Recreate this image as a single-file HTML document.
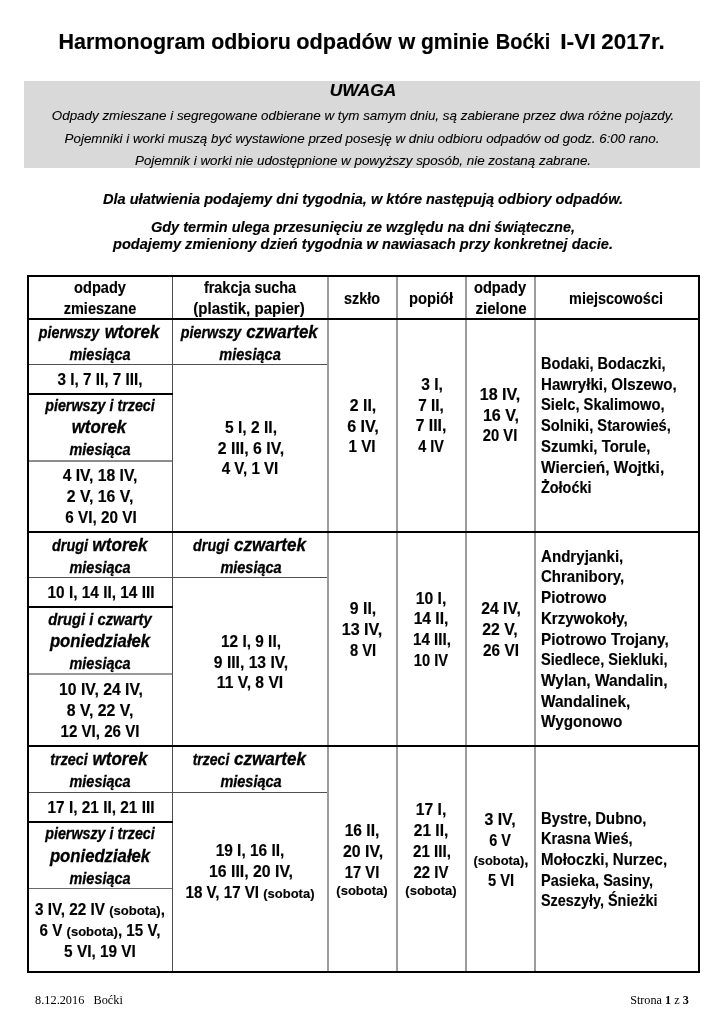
<!DOCTYPE html>
<html lang="pl">
<head>
<meta charset="utf-8">
<title>Harmonogram odbioru odpadów w gminie Boćki I-VI 2017r.</title>
<style>
html,body{margin:0;padding:0;background:#fff;}
#page{position:relative;width:725px;height:1024px;overflow:hidden;background:#fff;color:#000;font-family:"Liberation Sans",sans-serif;}
.r{position:absolute;}
.t{position:absolute;white-space:nowrap;line-height:20px;margin:0;padding:0;transform-origin:50% 50%;}
.l{transform-origin:0 50%;}
.b,.sm,.title,.bi,.uw{-webkit-text-stroke:0.15px #000;}
.note{-webkit-text-stroke:0.1px #000;}
.i,.I{-webkit-text-stroke:0.3px #000;}
.title{font-size:21.5px;font-weight:bold;}
.uw{font-size:15.84px;font-weight:bold;font-style:italic;}
.note{font-size:13.4px;font-style:italic;}
.bi{font-size:14.62px;font-weight:bold;font-style:italic;}
.b{font-size:15.69px;font-weight:bold;}
.i{font-size:15.69px;font-weight:bold;font-style:italic;}
.I{font-size:17.94px;font-weight:bold;font-style:italic;}
.sm{font-size:13.45px;font-weight:bold;}
.ft{font-size:12.19px;font-family:"Liberation Serif",serif;}
</style>
</head>
<body>
<div id="page">
<div class="r" style="left:24px;top:81px;width:676px;height:87px;background:#d9d9d9"></div>
<div class="r" style="left:327px;top:277px;width:2px;height:694px;background:#9c9c9c"></div>
<div class="r" style="left:396px;top:277px;width:2px;height:694px;background:#9c9c9c"></div>
<div class="r" style="left:465px;top:277px;width:2px;height:694px;background:#9c9c9c"></div>
<div class="r" style="left:534px;top:277px;width:2px;height:694px;background:#9c9c9c"></div>
<div class="r" style="left:172px;top:277px;width:1px;height:694px;background:#505050"></div>
<div class="r" style="left:29px;top:364px;width:298px;height:1px;background:#505050"></div>
<div class="r" style="left:29px;top:460px;width:143px;height:2px;background:#8c8c8c"></div>
<div class="r" style="left:29px;top:577px;width:298px;height:1px;background:#505050"></div>
<div class="r" style="left:29px;top:673px;width:143px;height:2px;background:#999"></div>
<div class="r" style="left:29px;top:792px;width:298px;height:1px;background:#505050"></div>
<div class="r" style="left:29px;top:888px;width:143px;height:1px;background:#6a6a6a"></div>
<div class="r" style="left:27px;top:393px;width:146px;height:2px;background:#000"></div>
<div class="r" style="left:27px;top:606px;width:146px;height:2px;background:#000"></div>
<div class="r" style="left:27px;top:821px;width:146px;height:2px;background:#000"></div>
<div class="r" style="left:27px;top:318px;width:673px;height:2px;background:#000"></div>
<div class="r" style="left:27px;top:531px;width:673px;height:2px;background:#000"></div>
<div class="r" style="left:27px;top:745px;width:673px;height:2px;background:#000"></div>
<div class="r" style="left:27px;top:275px;width:673px;height:2px;background:#000"></div>
<div class="r" style="left:27px;top:971px;width:673px;height:2px;background:#000"></div>
<div class="r" style="left:27px;top:275px;width:2px;height:698px;background:#000"></div>
<div class="r" style="left:698px;top:275px;width:2px;height:698px;background:#000"></div>
<div class="t title" style="left:132.10px;top:32px;transform:translateX(-50%) scaleX(1.0002)">Harmonogram</div>
<div class="t title" style="left:250.50px;top:32px;transform:translateX(-50%) scaleX(0.9941)">odbioru</div>
<div class="t title" style="left:343.65px;top:32px;transform:translateX(-50%) scaleX(1.0117)">odpadów</div>
<div class="t title" style="left:407.27px;top:32px;transform:translateX(-50%) scaleX(1.0012)">w</div>
<div class="t title" style="left:454.87px;top:32px;transform:translateX(-50%) scaleX(0.9834)">gminie</div>
<div class="t title" style="left:523.00px;top:32px;transform:translateX(-50%) scaleX(0.9306)">Boćki</div>
<div class="t title" style="left:578.32px;top:32px;transform:translateX(-50%) scaleX(1.0659)">I-VI</div>
<div class="t title" style="left:633.38px;top:32px;transform:translateX(-50%) scaleX(1.0388)">2017r.</div>
<div class="t uw" style="left:362.98px;top:81px;transform:translateX(-50%) scaleX(1.0966)">UWAGA</div>
<div class="t note" style="left:362.90px;top:106px;transform:translateX(-50%) scaleX(1.0008)">Odpady zmieszane i segregowane odbierane w tym samym dniu, są zabierane przez dwa różne pojazdy.</div>
<div class="t note" style="left:362.40px;top:129px;transform:translateX(-50%) scaleX(0.9990)">Pojemniki i worki muszą być wystawione przed posesję w dniu odbioru odpadów od godz. 6:00 rano.</div>
<div class="t note" style="left:363.30px;top:151px;transform:translateX(-50%) scaleX(0.9996)">Pojemnik i worki nie udostępnione w powyższy sposób, nie zostaną zabrane.</div>
<div class="t bi" style="left:362.67px;top:189px;transform:translateX(-50%) scaleX(0.9974)">Dla ułatwienia podajemy dni tygodnia, w które następują odbiory odpadów.</div>
<div class="t bi" style="left:362.80px;top:217px;transform:translateX(-50%) scaleX(0.9953)">Gdy termin ulega przesunięciu ze względu na dni świąteczne,</div>
<div class="t bi" style="left:363.15px;top:234px;transform:translateX(-50%) scaleX(0.9982)">podajemy zmieniony dzień tygodnia w nawiasach przy konkretnej dacie.</div>
<div class="t b" style="left:99.55px;top:278px;transform:translateX(-50%) scaleX(0.9303)">odpady</div>
<div class="t b" style="left:100.45px;top:299px;transform:translateX(-50%) scaleX(0.9244)">zmieszane</div>
<div class="t b" style="left:249.72px;top:278px;transform:translateX(-50%) scaleX(0.9181)">frakcja sucha</div>
<div class="t b" style="left:249.45px;top:299px;transform:translateX(-50%) scaleX(0.9605)">(plastik, papier)</div>
<div class="t b" style="left:362.40px;top:289px;transform:translateX(-50%) scaleX(0.9181)">szkło</div>
<div class="t b" style="left:431.15px;top:289px;transform:translateX(-50%) scaleX(0.9391)">popiół</div>
<div class="t b" style="left:499.85px;top:278px;transform:translateX(-50%) scaleX(0.9340)">odpady</div>
<div class="t b" style="left:500.75px;top:299px;transform:translateX(-50%) scaleX(0.9623)">zielone</div>
<div class="t b" style="left:616.45px;top:289px;transform:translateX(-50%) scaleX(0.9198)">miejscowości</div>
<div class="t i" style="left:69.40px;top:323px;transform:translateX(-50%) scaleX(0.9114)">pierwszy</div>
<div class="t I" style="left:132.10px;top:322px;transform:translateX(-50%) scaleX(0.9454)">wtorek</div>
<div class="t i" style="left:100.30px;top:345px;transform:translateX(-50%) scaleX(0.9183)">miesiąca</div>
<div class="t b" style="left:99.82px;top:370px;transform:translateX(-50%) scaleX(0.9730)">3 I, 7 II, 7 III,</div>
<div class="t i" style="left:100.27px;top:396px;transform:translateX(-50%) scaleX(0.9101)">pierwszy i trzeci</div>
<div class="t I" style="left:99.48px;top:417px;transform:translateX(-50%) scaleX(0.9443)">wtorek</div>
<div class="t i" style="left:100.30px;top:440px;transform:translateX(-50%) scaleX(0.9183)">miesiąca</div>
<div class="t b" style="left:100.00px;top:466px;transform:translateX(-50%) scaleX(1.0000)">4 IV, 18 IV,</div>
<div class="t b" style="left:99.80px;top:487px;transform:translateX(-50%) scaleX(1.0092)">2 V, 16 V,</div>
<div class="t b" style="left:100.52px;top:508px;transform:translateX(-50%) scaleX(0.9733)">6 VI, 20 VI</div>
<div class="t i" style="left:211.15px;top:323px;transform:translateX(-50%) scaleX(0.9144)">pierwszy</div>
<div class="t I" style="left:281.80px;top:322px;transform:translateX(-50%) scaleX(0.9449)">czwartek</div>
<div class="t i" style="left:250.37px;top:345px;transform:translateX(-50%) scaleX(0.9268)">miesiąca</div>
<div class="t b" style="left:251.00px;top:418px;transform:translateX(-50%) scaleX(0.9925)">5 I, 2 II,</div>
<div class="t b" style="left:250.73px;top:439px;transform:translateX(-50%) scaleX(1.0085)">2 III, 6 IV,</div>
<div class="t b" style="left:249.88px;top:459px;transform:translateX(-50%) scaleX(0.9636)">4 V, 1 VI</div>
<div class="t b" style="left:362.75px;top:396px;transform:translateX(-50%) scaleX(1.0083)">2 II,</div>
<div class="t b" style="left:362.75px;top:417px;transform:translateX(-50%) scaleX(1.0281)">6 IV,</div>
<div class="t b" style="left:362.30px;top:437px;transform:translateX(-50%) scaleX(0.9727)">1 VI</div>
<div class="t b" style="left:431.55px;top:375px;transform:translateX(-50%) scaleX(0.9918)">3 I,</div>
<div class="t b" style="left:431.40px;top:396px;transform:translateX(-50%) scaleX(0.9778)">7 II,</div>
<div class="t b" style="left:431.40px;top:416px;transform:translateX(-50%) scaleX(1.0009)">7 III,</div>
<div class="t b" style="left:431.00px;top:437px;transform:translateX(-50%) scaleX(0.9181)">4 IV</div>
<div class="t b" style="left:500.23px;top:385px;transform:translateX(-50%) scaleX(1.0231)">18 IV,</div>
<div class="t b" style="left:500.60px;top:406px;transform:translateX(-50%) scaleX(1.0281)">16 V,</div>
<div class="t b" style="left:499.90px;top:426px;transform:translateX(-50%) scaleX(0.9408)">20 VI</div>
<div class="t l b" style="left:541.30px;top:354px;transform:scaleX(0.9276)">Bodaki, Bodaczki,</div>
<div class="t l b" style="left:541.30px;top:375px;transform:scaleX(0.9607)">Hawryłki, Olszewo,</div>
<div class="t l b" style="left:541.30px;top:395px;transform:scaleX(0.9395)">Sielc, Skalimowo,</div>
<div class="t l b" style="left:541.30px;top:416px;transform:scaleX(0.9368)">Solniki, Starowieś,</div>
<div class="t l b" style="left:541.30px;top:437px;transform:scaleX(0.9528)">Szumki, Torule,</div>
<div class="t l b" style="left:541.30px;top:458px;transform:scaleX(0.9848)">Wiercień, Wojtki,</div>
<div class="t l b" style="left:541.30px;top:478px;transform:scaleX(0.9181)">Żołoćki</div>
<div class="t i" style="left:69.70px;top:536px;transform:translateX(-50%) scaleX(0.9199)">drugi</div>
<div class="t I" style="left:120.45px;top:535px;transform:translateX(-50%) scaleX(0.9572)">wtorek</div>
<div class="t i" style="left:100.30px;top:558px;transform:translateX(-50%) scaleX(0.9183)">miesiąca</div>
<div class="t b" style="left:100.55px;top:583px;transform:translateX(-50%) scaleX(0.9810)">10 I, 14 II, 14 III</div>
<div class="t i" style="left:99.85px;top:610px;transform:translateX(-50%) scaleX(0.9410)">drugi i czwarty</div>
<div class="t I" style="left:100.08px;top:631px;transform:translateX(-50%) scaleX(0.9312)">poniedziałek</div>
<div class="t i" style="left:100.30px;top:654px;transform:translateX(-50%) scaleX(0.9183)">miesiąca</div>
<div class="t b" style="left:101.10px;top:680px;transform:translateX(-50%) scaleX(1.0049)">10 IV, 24 IV,</div>
<div class="t b" style="left:99.80px;top:701px;transform:translateX(-50%) scaleX(1.0092)">8 V, 22 V,</div>
<div class="t b" style="left:100.00px;top:722px;transform:translateX(-50%) scaleX(0.9634)">12 VI, 26 VI</div>
<div class="t i" style="left:211.40px;top:536px;transform:translateX(-50%) scaleX(0.9138)">drugi</div>
<div class="t I" style="left:269.60px;top:535px;transform:translateX(-50%) scaleX(0.9503)">czwartek</div>
<div class="t i" style="left:250.63px;top:558px;transform:translateX(-50%) scaleX(0.9236)">miesiąca</div>
<div class="t b" style="left:250.75px;top:632px;transform:translateX(-50%) scaleX(0.9809)">12 I, 9 II,</div>
<div class="t b" style="left:250.73px;top:653px;transform:translateX(-50%) scaleX(0.9980)">9 III, 13 IV,</div>
<div class="t b" style="left:250.10px;top:673px;transform:translateX(-50%) scaleX(0.9971)">11 V, 8 VI</div>
<div class="t b" style="left:362.75px;top:599px;transform:translateX(-50%) scaleX(1.0083)">9 II,</div>
<div class="t b" style="left:362.33px;top:620px;transform:translateX(-50%) scaleX(1.0281)">13 IV,</div>
<div class="t b" style="left:362.75px;top:641px;transform:translateX(-50%) scaleX(0.9362)">8 VI</div>
<div class="t b" style="left:431.40px;top:589px;transform:translateX(-50%) scaleX(1.0009)">10 I,</div>
<div class="t b" style="left:431.32px;top:609px;transform:translateX(-50%) scaleX(0.9953)">14 II,</div>
<div class="t b" style="left:431.87px;top:630px;transform:translateX(-50%) scaleX(0.9667)">14 III,</div>
<div class="t b" style="left:431.40px;top:651px;transform:translateX(-50%) scaleX(0.9356)">10 IV</div>
<div class="t b" style="left:500.68px;top:599px;transform:translateX(-50%) scaleX(0.9995)">24 IV,</div>
<div class="t b" style="left:500.15px;top:620px;transform:translateX(-50%) scaleX(1.0060)">22 V,</div>
<div class="t b" style="left:500.58px;top:641px;transform:translateX(-50%) scaleX(0.9779)">26 VI</div>
<div class="t l b" style="left:541.30px;top:547px;transform:scaleX(0.9630)">Andryjanki,</div>
<div class="t l b" style="left:541.30px;top:567px;transform:scaleX(0.9570)">Chranibory,</div>
<div class="t l b" style="left:541.30px;top:588px;transform:scaleX(0.9777)">Piotrowo</div>
<div class="t l b" style="left:541.30px;top:609px;transform:scaleX(0.9589)">Krzywokoły,</div>
<div class="t l b" style="left:541.30px;top:630px;transform:scaleX(0.9789)">Piotrowo Trojany,</div>
<div class="t l b" style="left:541.30px;top:650px;transform:scaleX(0.9298)">Siedlece, Siekluki,</div>
<div class="t l b" style="left:541.30px;top:671px;transform:scaleX(0.9879)">Wylan, Wandalin,</div>
<div class="t l b" style="left:541.30px;top:692px;transform:scaleX(0.9809)">Wandalinek,</div>
<div class="t l b" style="left:541.30px;top:712px;transform:scaleX(0.9748)">Wygonowo</div>
<div class="t i" style="left:69.15px;top:750px;transform:translateX(-50%) scaleX(0.9104)">trzeci</div>
<div class="t I" style="left:120.48px;top:749px;transform:translateX(-50%) scaleX(0.9512)">wtorek</div>
<div class="t i" style="left:100.30px;top:772px;transform:translateX(-50%) scaleX(0.9183)">miesiąca</div>
<div class="t b" style="left:100.55px;top:798px;transform:translateX(-50%) scaleX(0.9810)">17 I, 21 II, 21 III</div>
<div class="t i" style="left:100.27px;top:824px;transform:translateX(-50%) scaleX(0.9101)">pierwszy i trzeci</div>
<div class="t I" style="left:100.08px;top:846px;transform:translateX(-50%) scaleX(0.9312)">poniedziałek</div>
<div class="t i" style="left:100.30px;top:869px;transform:translateX(-50%) scaleX(0.9183)">miesiąca</div>
<div class="t b" style="left:100.30px;top:900px;transform:translateX(-50%) scaleX(0.9732)">3 IV, 22 IV <span style="font-size:13.45px">(sobota)</span>,</div>
<div class="t b" style="left:100.00px;top:921px;transform:translateX(-50%) scaleX(0.9680)">6 V <span style="font-size:13.45px">(sobota)</span>, 15 V,</div>
<div class="t b" style="left:100.27px;top:942px;transform:translateX(-50%) scaleX(0.9802)">5 VI, 19 VI</div>
<div class="t i" style="left:211.33px;top:750px;transform:translateX(-50%) scaleX(0.8927)">trzeci</div>
<div class="t I" style="left:270.35px;top:749px;transform:translateX(-50%) scaleX(0.9503)">czwartek</div>
<div class="t i" style="left:250.63px;top:772px;transform:translateX(-50%) scaleX(0.9236)">miesiąca</div>
<div class="t b" style="left:250.20px;top:841px;transform:translateX(-50%) scaleX(0.9851)">19 I, 16 II,</div>
<div class="t b" style="left:250.65px;top:862px;transform:translateX(-50%) scaleX(1.0111)">16 III, 20 IV,</div>
<div class="t b" style="left:249.85px;top:883px;transform:translateX(-50%) scaleX(0.9657)">18 V, 17 VI <span style="font-size:13.45px">(sobota)</span></div>
<div class="t b" style="left:362.32px;top:821px;transform:translateX(-50%) scaleX(0.9953)">16 II,</div>
<div class="t b" style="left:362.78px;top:842px;transform:translateX(-50%) scaleX(1.0141)">20 IV,</div>
<div class="t b" style="left:362.32px;top:863px;transform:translateX(-50%) scaleX(0.9415)">17 VI</div>
<div class="t sm" style="left:362.32px;top:881px;transform:translateX(-50%) scaleX(0.9673)">(sobota)</div>
<div class="t b" style="left:431.40px;top:800px;transform:translateX(-50%) scaleX(1.0009)">17 I,</div>
<div class="t b" style="left:431.40px;top:821px;transform:translateX(-50%) scaleX(0.9890)">21 II,</div>
<div class="t b" style="left:431.85px;top:842px;transform:translateX(-50%) scaleX(0.9666)">21 III,</div>
<div class="t b" style="left:431.10px;top:863px;transform:translateX(-50%) scaleX(0.9516)">22 IV</div>
<div class="t sm" style="left:430.57px;top:881px;transform:translateX(-50%) scaleX(0.9673)">(sobota)</div>
<div class="t b" style="left:500.20px;top:810px;transform:translateX(-50%) scaleX(1.0135)">3 IV,</div>
<div class="t b" style="left:499.92px;top:831px;transform:translateX(-50%) scaleX(0.9181)">6 V</div>
<div class="t b" style="left:500.80px;top:850px;transform:translateX(-50%) scaleX(0.9581)"><span style="font-size:13.45px">(sobota)</span>,</div>
<div class="t b" style="left:500.95px;top:871px;transform:translateX(-50%) scaleX(0.9362)">5 VI</div>
<div class="t l b" style="left:541.30px;top:809px;transform:scaleX(0.9448)">Bystre, Dubno,</div>
<div class="t l b" style="left:541.30px;top:829px;transform:scaleX(0.9317)">Krasna Wieś,</div>
<div class="t l b" style="left:541.30px;top:850px;transform:scaleX(0.9577)">Mołoczki, Nurzec,</div>
<div class="t l b" style="left:541.30px;top:871px;transform:scaleX(0.9257)">Pasieka, Sasiny,</div>
<div class="t l b" style="left:541.30px;top:891px;transform:scaleX(0.9181)">Szeszyły, Śnieżki</div>
<div class="t ft" style="left:78.97px;top:990px;transform:translateX(-50%) scaleX(1.0087)">8.12.2016&nbsp;&nbsp; Boćki</div>
<div class="t ft" style="left:659.45px;top:990px;transform:translateX(-50%) scaleX(1.0000)">Strona <b>1</b> z <b>3</b></div>
</div>
</body>
</html>
